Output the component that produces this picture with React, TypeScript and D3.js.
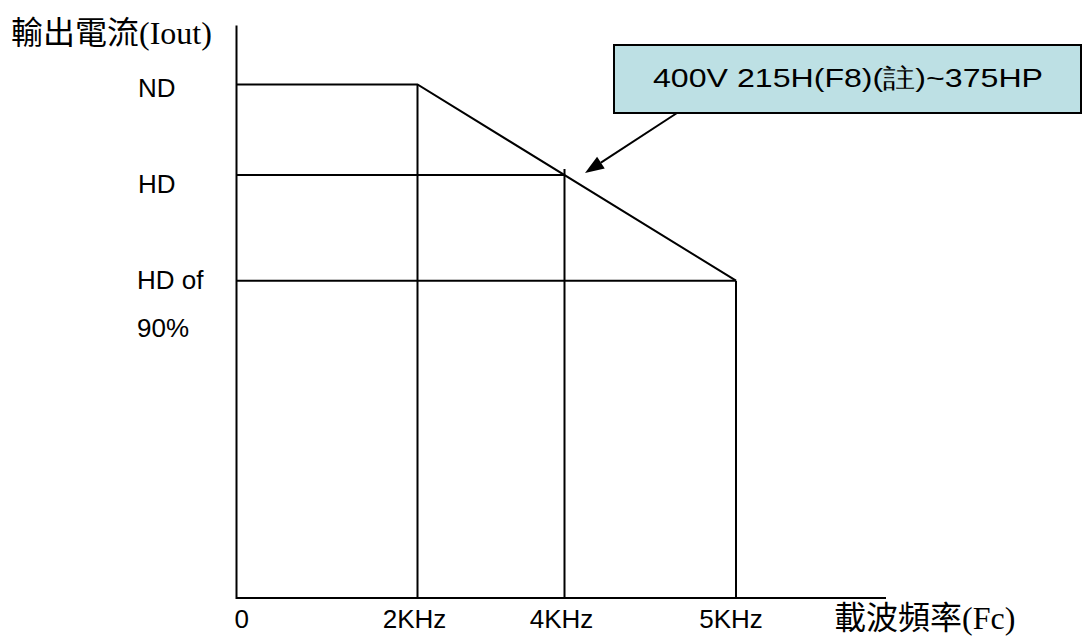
import React from "react";
import * as d3 from "d3";

// ---- data ----
const freqValues = [0, 2, 4, 5];
const freqLabels = ["0", "2KHz", "4KHz", "5KHz"];
const levelNames = ["ND", "HD", "HD of 90%"];
const levelValues = [100, 82.4, 61.8]; // schematic current levels (% of plot height)
// derating curve: frequency -> level
const curveFreq = [0, 2, 5];
const curveLevel = [100, 100, 61.8];
const hdLineFreq = [0, 4];
const annotationText = "400V 215H(F8)(註)~375HP";
const yTitle = "輸出電流(Iout)";
const xTitle = "載波頻率(Fc)";

const W = 1085;
const H = 641;

export default function App() {
  const x0 = 236.5;
  const xAxisEnd = 886;
  const yBase = 598;
  // schematic (non-uniform) frequency axis
  const x = d3.scaleLinear().domain(freqValues).range([x0, 417.5, 564.5, 736]);
  const y = d3.scaleLinear().domain([0, 100]).range([yBase, 84.5]);
  const yTop = y(111.5);

  const line = d3.line<[number, number]>().x((d) => x(d[0])).y((d) => y(d[1]));
  const curvePts: [number, number][] = curveFreq.map((f, i) => [f, curveLevel[i]]);
  const hdPts: [number, number][] = hdLineFreq.map((f) => [f, levelValues[1]]);
  const hd90Pts: [number, number][] = [[0, levelValues[2]], [5, levelValues[2]]];

  const sans = "'Liberation Sans', Arial, sans-serif";
  const serif = "'Liberation Serif', 'Times New Roman', 'Noto Sans CJK TC', serif";
  const stroke = "#000";
  const sw = 2;

  // arrow
  const ax1 = 677, ay1 = 113, ax2 = 585, ay2 = 173;
  const ang = Math.atan2(ay2 - ay1, ax2 - ax1);
  const hl = 19, hw = 7;
  const bx = ax2 - hl * Math.cos(ang), by = ay2 - hl * Math.sin(ang);
  const px = -Math.sin(ang), py = Math.cos(ang);
  const head = `${ax2},${ay2} ${bx + hw * px},${by + hw * py} ${bx - hw * px},${by - hw * py}`;

  const tickOffsets = [-1, -3, -3, -5];

  return (
    <svg width={W} height={H} style={{ position: "absolute", left: 0, top: 0, background: "#fff" }}>
      <rect width={W} height={H} fill="#fff" />
      {/* axes */}
      <line x1={x0} y1={yTop} x2={x0} y2={yBase + 1} stroke={stroke} strokeWidth={sw} />
      <line x1={x0} y1={yBase} x2={xAxisEnd} y2={yBase} stroke={stroke} strokeWidth={sw} />

      {/* derating curve */}
      <path d={line(curvePts) || ""} fill="none" stroke={stroke} strokeWidth={sw} />
      <path d={line(hdPts) || ""} fill="none" stroke={stroke} strokeWidth={sw} />
      <path d={line(hd90Pts) || ""} fill="none" stroke={stroke} strokeWidth={sw} />

      {/* vertical drops */}
      <line x1={x(2)} y1={y(100)} x2={x(2)} y2={yBase} stroke={stroke} strokeWidth={sw} />
      <line x1={x(4)} y1={y(levelValues[1]) - 6} x2={x(4)} y2={yBase} stroke={stroke} strokeWidth={sw} />
      <line x1={x(5)} y1={y(levelValues[2])} x2={x(5)} y2={yBase} stroke={stroke} strokeWidth={sw} />

      {/* y labels */}
      <text x={138} y={y(levelValues[0]) + 12.5} fontFamily={sans} fontSize={26} fill="#000">
        {levelNames[0]}
      </text>
      <text x={138} y={y(levelValues[1]) + 18.5} fontFamily={sans} fontSize={26} fill="#000">
        {levelNames[1]}
      </text>
      <text x={137} y={y(levelValues[2]) + 8.5} fontFamily={sans} fontSize={26} fill="#000">
        {levelNames[2].split(" ").slice(0, 2).join(" ")}
      </text>
      <text x={137} y={y(levelValues[2]) + 56.5} fontFamily={sans} fontSize={26} fill="#000">
        {levelNames[2].split(" ")[2]}
      </text>

      {/* x tick labels */}
      {freqValues.map((f, i) => (
        <text
          key={freqLabels[i]}
          x={i === 0 ? x(f) - 2 : x(f) + tickOffsets[i]}
          y={628}
          textAnchor={i === 0 ? "start" : "middle"}
          fontFamily={sans}
          fontSize={26}
          fill="#000"
        >
          {freqLabels[i]}
        </text>
      ))}

      {/* axis titles */}
      <text x={11} y={44} fontFamily={serif} fontSize={32} fill="#000">
        {yTitle}
      </text>
      <text x={834} y={629} fontFamily={serif} fontSize={32} fill="#000">
        {xTitle}
      </text>

      {/* annotation */}
      <rect x={614} y={45} width={467} height={68} fill="#bde0e4" stroke={stroke} strokeWidth={sw} />
      <text x={653} y={87} fontFamily={sans} fontSize={26} fill="#000" textLength={390} lengthAdjust="spacingAndGlyphs">
        {annotationText}
      </text>
      <line x1={ax1} y1={ay1} x2={bx} y2={by} stroke={stroke} strokeWidth={sw} />
      <polygon points={head} fill={stroke} />
    </svg>
  );
}
